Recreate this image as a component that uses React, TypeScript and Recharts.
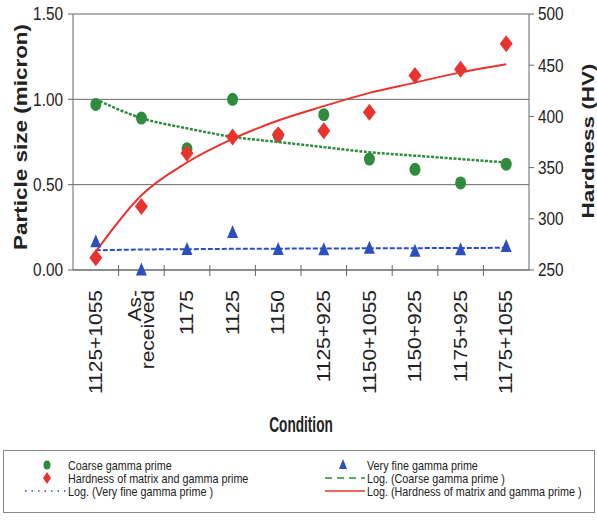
import React from 'react';
import { ComposedChart, Line, XAxis, YAxis, CartesianGrid } from 'recharts';

// ---- data ----
const categories = ['1125+1055', 'As-\nreceived', '1175', '1125', '1150', '1125+925', '1150+1055', '1150+925', '1175+925', '1175+1055'];
const coarse = [0.97, 0.89, 0.71, 1.0, 0.79, 0.91, 0.65, 0.59, 0.51, 0.62];
const veryFine = [0.165, 0.0, 0.12, 0.22, 0.12, 0.118, 0.128, 0.11, 0.118, 0.137];
const hardness = [262, 312, 364, 380, 382, 386, 404, 440, 446, 471];
const coarseLog = [1.0, 0.89, 0.83, 0.78, 0.75, 0.72, 0.69, 0.67, 0.65, 0.63];
const veryFineLog = [0.115, 0.12, 0.122, 0.124, 0.125, 0.126, 0.127, 0.128, 0.129, 0.13];
const hardnessLog = [268, 323, 355, 378, 396, 410, 423, 433, 443, 451];
const leftTicks = [0, 0.5, 1.0, 1.5];
const rightTicks = [250, 300, 350, 400, 450, 500];

const legendLeft = [
  { label: 'Coarse gamma prime', kind: 'circle' },
  { label: 'Hardness of matrix and gamma prime', kind: 'diamond' },
  { label: 'Log. (Very fine gamma prime )', kind: 'blueLine' },
];
const legendRight = [
  { label: 'Very fine gamma prime', kind: 'triangle' },
  { label: 'Log. (Coarse gamma prime )', kind: 'greenLine' },
  { label: 'Log. (Hardness of matrix and gamma prime )', kind: 'redLine' },
];

const data = categories.map((c, i) => ({
  x: i + 1,
  coarse: coarse[i],
  veryFine: veryFine[i],
  hardness: hardness[i],
  coarseLog: coarseLog[i],
  veryFineLog: veryFineLog[i],
  hardnessLog: hardnessLog[i],
}));
const labelTicks = categories.map((_, i) => i + 1);
const boundaryTicks = categories.slice(1).map((_, i) => i + 1.5);
const xDomain: [number, number] = [0.5, 10.5];
const leftDomain: [number, number] = [0, 1.5];
const rightDomain: [number, number] = [250, 500];

const FONT = '"Liberation Sans", Arial, sans-serif';
const GREEN = '#2f8c3e';
const RED = '#e8332e';
const BLUE = '#2c4fc0';
const AXIS = '#666';
const TXT = '#222';
const axisLineStyle = { stroke: AXIS };

const CircleDot = (p: any) =>
  p.cx == null ? null : <ellipse key={`c${p.index}`} cx={p.cx} cy={p.cy} rx={5.5} ry={6.5} fill={GREEN} />;
const DiamondDot = (p: any) =>
  p.cx == null ? null : (
    <polygon
      key={`d${p.index}`}
      points={`${p.cx},${p.cy - 8.5} ${p.cx + 6.5},${p.cy} ${p.cx},${p.cy + 8.5} ${p.cx - 6.5},${p.cy}`}
      fill={RED}
    />
  );
const TriDot = (p: any) =>
  p.cx == null ? null : (
    <polygon
      key={`t${p.index}`}
      points={`${p.cx},${p.cy - 7.5} ${p.cx + 5.5},${p.cy + 5.5} ${p.cx - 5.5},${p.cy + 5.5}`}
      fill={BLUE}
    />
  );

const YTickLeft = (p: any) => (
  <text
    transform={`translate(${p.x},${p.y}) scale(0.83,1)`}
    textAnchor="end"
    dy="0.35em"
    fontSize={18.5}
    fontFamily={FONT}
    fill={TXT}
  >
    {Number(p.payload.value).toFixed(2)}
  </text>
);
const YTickRight = (p: any) => (
  <text
    transform={`translate(${p.x},${p.y}) scale(0.83,1)`}
    textAnchor="start"
    dy="0.35em"
    fontSize={18.5}
    fontFamily={FONT}
    fill={TXT}
  >
    {p.payload.value}
  </text>
);

const XTick = (p: any) => {
  const lines = String(categories[Math.round(p.payload.value) - 1] ?? '').split('\n');
  const n = lines.length;
  const lh = 15.5;
  return (
    <g transform={`translate(${p.x},${p.y}) rotate(-90) scale(1,0.85)`}>
      {lines.map((ln, i) => (
        <text
          key={i}
          x={0}
          y={(i - (n - 1) / 2) * lh}
          dy="0.35em"
          textAnchor="end"
          fontSize={21}
          fontFamily={FONT}
          fill={TXT}
        >
          {ln}
        </text>
      ))}
    </g>
  );
};

const BoundaryTick = (p: any) => (
  <line x1={p.x} x2={p.x} y1={p.y - 5} y2={p.y + 6} stroke={AXIS} strokeWidth={1} />
);

const LeftLabel = (props: any) => {
  const vb = props.viewBox || { x: 0, y: 14, width: 73, height: 256 };
  const cx = vb.x + 21;
  const cy = vb.y + vb.height / 2 - 5;
  return (
    <text
      transform={`translate(${cx},${cy}) rotate(-90) scale(1,0.8)`}
      textAnchor="middle"
      dy="0.35em"
      fontSize={22.5}
      fontWeight="bold"
      fontFamily={FONT}
      fill={TXT}
    >
      Particle size (micron)
    </text>
  );
};
const RightLabel = (props: any) => {
  const vb = props.viewBox || { x: 529, y: 14, width: 68, height: 256 };
  const cx = vb.x + 59;
  const cy = vb.y + vb.height / 2 - 1;
  return (
    <text
      transform={`translate(${cx},${cy}) rotate(-90) scale(1,0.72)`}
      textAnchor="middle"
      dy="0.35em"
      fontSize={22.5}
      fontWeight="bold"
      fontFamily={FONT}
      fill={TXT}
    >
      Hardness (HV)
    </text>
  );
};
const BottomLabel = (props: any) => {
  const vb = props.viewBox || { x: 73, y: 271, width: 456, height: 160 };
  const cx = vb.x + vb.width / 2;
  const cy = vb.y + 161;
  return (
    <text
      transform={`translate(${cx},${cy}) scale(0.62,1)`}
      textAnchor="middle"
      fontSize={22}
      fontWeight="bold"
      fontFamily={FONT}
      fill={TXT}
    >
      Condition
    </text>
  );
};

const LegendSymbol = ({ kind, x, y, lx0, lx1 }: any) => {
  switch (kind) {
    case 'circle':
      return <ellipse cx={x} cy={y} rx={3.5} ry={4.5} fill={GREEN} />;
    case 'diamond':
      return <polygon points={`${x},${y - 6} ${x + 4},${y} ${x},${y + 6} ${x - 4},${y}`} fill={RED} />;
    case 'triangle':
      return <polygon points={`${x},${y - 6} ${x + 4},${y + 4} ${x - 4},${y + 4}`} fill={BLUE} />;
    case 'blueLine':
      return <line x1={lx0} x2={lx1} y1={y} y2={y} stroke={BLUE} strokeWidth={1.5} strokeDasharray="1.5 5" />;
    case 'greenLine':
      return <line x1={lx0} x2={lx1} y1={y} y2={y} stroke={GREEN} strokeWidth={1.5} strokeDasharray="7 5" />;
    case 'redLine':
      return <line x1={lx0} x2={lx1} y1={y} y2={y} stroke={RED} strokeWidth={1.5} />;
    default:
      return null;
  }
};

const Legend2 = () => {
  const rows = [465, 478, 491];
  const cols = [
    { items: legendLeft, mx: 47, tx: 68, lx0: 25, lx1: 67 },
    { items: legendRight, mx: 343, tx: 367, lx0: 325, lx1: 365 },
  ];
  return (
    <svg width={597} height={520} style={{ position: 'absolute', left: 0, top: 0, pointerEvents: 'none' }}>
      <rect x={3.5} y={450.5} width={591} height={62} fill="none" stroke="#888" strokeWidth={1} />
      {cols.map((c, ci) =>
        c.items.map((it, i) => (
          <g key={`${ci}-${i}`}>
            <LegendSymbol kind={it.kind} x={c.mx} y={rows[i]} lx0={c.lx0} lx1={c.lx1} />
            <text
              transform={`translate(${c.tx},${rows[i]}) scale(0.83,1)`}
              dy="0.35em"
              fontSize={13}
              fontFamily={FONT}
              fill={TXT}
            >
              {it.label}
            </text>
          </g>
        ))
      )}
    </svg>
  );
};

export default function App() {
  return (
    <div style={{ position: 'absolute', left: 0, top: 0, width: 597, height: 520, background: '#fff' }}>
      <ComposedChart width={597} height={520} data={data} margin={{ top: 14, right: 0, left: 0, bottom: 89 }}>
        <CartesianGrid vertical={false} stroke={AXIS} strokeWidth={1} yAxisId="left" xAxisId={1} />
        <XAxis
          xAxisId={0}
          dataKey="x"
          type="number"
          domain={xDomain}
          ticks={boundaryTicks}
          height={1}
          axisLine={axisLineStyle}
          tickLine={false}
          tickSize={0}
          tickMargin={0}
          tick={BoundaryTick}
          interval={0}
        />
        <XAxis
          xAxisId={1}
          dataKey="x"
          type="number"
          domain={xDomain}
          ticks={labelTicks}
          height={160}
          axisLine={false}
          tickLine={false}
          tickSize={0}
          tickMargin={19}
          tick={XTick}
          interval={0}
          label={BottomLabel}
        />
        <YAxis
          yAxisId="left"
          orientation="left"
          width={73}
          domain={leftDomain}
          ticks={leftTicks}
          axisLine={axisLineStyle}
          tickLine={axisLineStyle}
          tickSize={5}
          tickMargin={5}
          tick={YTickLeft}
          interval={0}
          label={LeftLabel}
        />
        <YAxis
          yAxisId="right"
          orientation="right"
          width={68}
          domain={rightDomain}
          ticks={rightTicks}
          axisLine={axisLineStyle}
          tickLine={axisLineStyle}
          tickSize={5}
          tickMargin={4}
          tick={YTickRight}
          interval={0}
          label={RightLabel}
        />
        <Line xAxisId={1} yAxisId="left" dataKey="veryFineLog" type="monotone" stroke={BLUE} strokeWidth={2} strokeDasharray="5 2" dot={false} activeDot={false} isAnimationActive={false} />
        <Line xAxisId={1} yAxisId="left" dataKey="coarseLog" type="monotone" stroke={GREEN} strokeWidth={2.5} strokeDasharray="3 1.5" dot={false} activeDot={false} isAnimationActive={false} />
        <Line xAxisId={1} yAxisId="right" dataKey="hardnessLog" type="monotone" stroke={RED} strokeWidth={2} dot={false} activeDot={false} isAnimationActive={false} />
        <Line xAxisId={1} yAxisId="left" dataKey="veryFine" stroke="none" dot={TriDot} activeDot={false} isAnimationActive={false} />
        <Line xAxisId={1} yAxisId="left" dataKey="coarse" stroke="none" dot={CircleDot} activeDot={false} isAnimationActive={false} />
        <Line xAxisId={1} yAxisId="right" dataKey="hardness" stroke="none" dot={DiamondDot} activeDot={false} isAnimationActive={false} />
      </ComposedChart>
      <Legend2 />
    </div>
  );
}
